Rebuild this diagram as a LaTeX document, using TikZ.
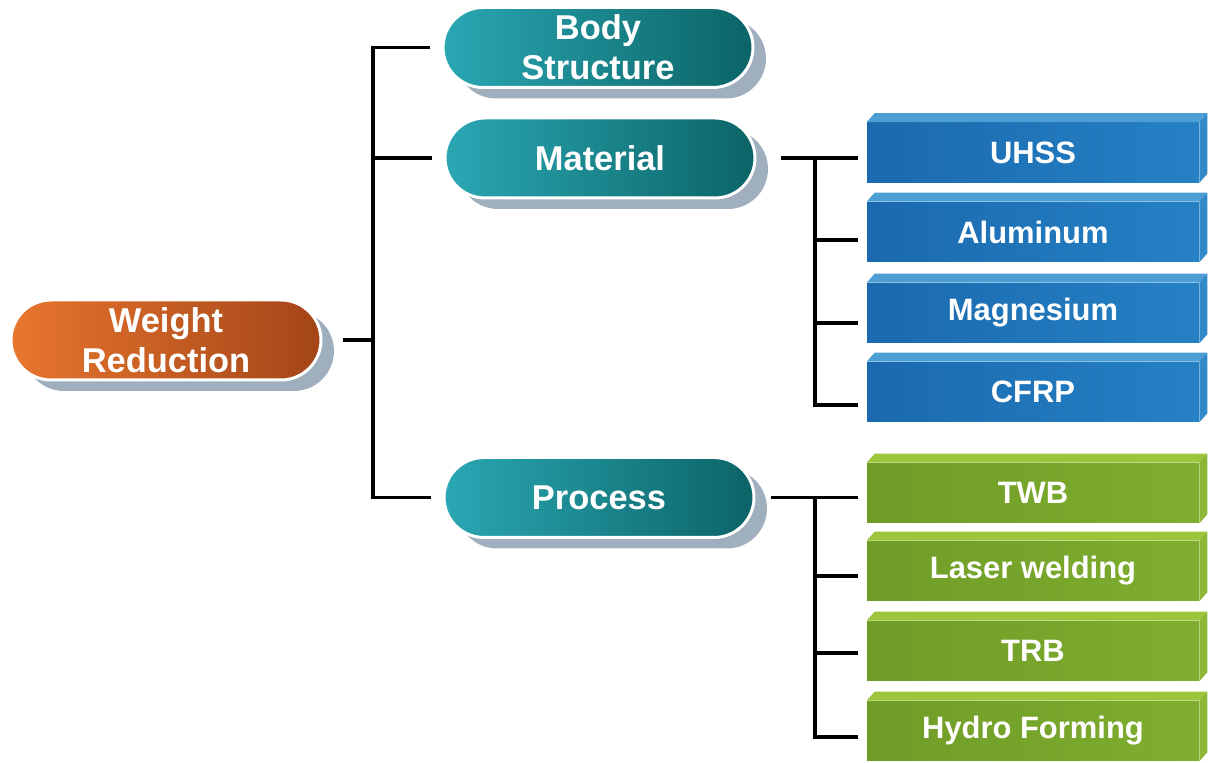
\documentclass[tikz,border=0pt]{standalone}
\usepackage{fontspec}
\setmainfont{Liberation Sans}
\usetikzlibrary{shapes.misc,shadows}
\definecolor{orL}{HTML}{E8762E}
\definecolor{orR}{HTML}{A34518}
\definecolor{tlL}{HTML}{2AA7B4}
\definecolor{tlR}{HTML}{0B6466}
\definecolor{shd}{HTML}{A0AFBD}
\definecolor{bluL}{HTML}{1B69AE}
\definecolor{bluR}{HTML}{2581C4}
\definecolor{bluT}{HTML}{4E9ED6}
\definecolor{bluS}{HTML}{3189C8}
\definecolor{grnL}{HTML}{6F9C27}
\definecolor{grnR}{HTML}{7FAE2F}
\definecolor{grnT}{HTML}{9CC53C}
\definecolor{grnS}{HTML}{8CB736}
\tikzset{
  pill/.style={rounded rectangle, draw=white, line width=1.7pt, inner sep=0pt,
    minimum height=1.6cm, minimum width=6.2cm, text=white,
    font=\bfseries\fontsize{19.6}{22.7}\selectfont, align=center,
    drop shadow={shadow xshift=0.26cm, shadow yshift=-0.22cm, fill=shd, opacity=1}},
  orpill/.style={pill, left color=orL, right color=orR},
  tlpill/.style={pill, left color=tlL, right color=tlR},
  box/.style={rectangle, inner sep=0pt, minimum width=6.64cm, minimum height=1.2cm,
    text=white, font=\bfseries\fontsize{17.6}{20}\selectfont},
  bbox/.style={box, left color=bluL, right color=bluR},
  gbox/.style={box, left color=grnL, right color=grnR},
  conn/.style={draw=black, line width=2.2pt}
}
\begin{document}
\begin{tikzpicture}[x=0.02cm, y=-0.02cm]
\useasboundingbox (0,0) rectangle (1208,763);
% pills
\node[orpill] (wr) at (166,340) {Weight\\Reduction};
\node[tlpill] (body) at (598,47.5) {Body\\Structure};
\node[tlpill] (mat) at (600,158) {Material};
\node[tlpill] (proc) at (599,497.5) {Process};
% boxes
\node[bbox] (uhss) at (1033,152.5) {UHSS};
\node[bbox] (alu) at (1033,232) {Aluminum};
\node[bbox] (mag) at (1033,313) {Magnesium};
\node[bbox] (cfrp) at (1033,392) {CFRP};
\node[gbox] (twb) at (1033,493) {TWB};
\node[gbox] (laser) at (1033,571) {Laser welding};
\node[gbox] (trb) at (1033,651) {TRB};
\node[gbox] (hydro) at (1033,731) {Hydro Forming};
\foreach \n in {uhss,alu,mag,cfrp} {
  \fill[bluT] (\n.north west) -- ([xshift=0.16cm,yshift=0.18cm]\n.north west)
    -- ([xshift=0.16cm,yshift=0.18cm]\n.north east) -- (\n.north east) -- cycle;
  \fill[bluS] (\n.north east) -- ([xshift=0.16cm,yshift=0.18cm]\n.north east)
    -- ([xshift=0.16cm,yshift=0.18cm]\n.south east) -- (\n.south east) -- cycle;
}
\foreach \n in {twb,laser,trb,hydro} {
  \fill[grnT] (\n.north west) -- ([xshift=0.16cm,yshift=0.18cm]\n.north west)
    -- ([xshift=0.16cm,yshift=0.18cm]\n.north east) -- (\n.north east) -- cycle;
  \fill[grnS] (\n.north east) -- ([xshift=0.16cm,yshift=0.18cm]\n.north east)
    -- ([xshift=0.16cm,yshift=0.18cm]\n.south east) -- (\n.south east) -- cycle;
}
% connector coordinates
\coordinate (lbus) at (373,0);
\coordinate (rbus) at (815,0);
\coordinate (uhssIn) at ([xshift=-0.18cm]uhss.west);
\coordinate (aluIn) at ([xshift=-0.18cm,yshift=-0.16cm]alu.west);
\coordinate (magIn) at ([xshift=-0.18cm,yshift=-0.2cm]mag.west);
\coordinate (cfrpIn) at ([xshift=-0.18cm,yshift=-0.26cm]cfrp.west);
\coordinate (twbIn) at ([xshift=-0.18cm]twb.west);
\coordinate (laserIn) at ([xshift=-0.18cm,yshift=-0.1cm]laser.west);
\coordinate (trbIn) at ([xshift=-0.18cm,yshift=-0.04cm]trb.west);
\coordinate (hydroIn) at ([xshift=-0.18cm,yshift=-0.12cm]hydro.west);
% left bus
\draw[conn] ([xshift=-0.24cm]body.west) -- (body.west -| lbus) -- (proc.west -| lbus) -- ([xshift=-0.24cm]proc.west);
\draw[conn] ([xshift=-0.24cm]mat.west) -- (mat.west -| lbus);
\draw[conn] ([xshift=0.42cm]wr.east) -- (wr.east -| lbus);
% material bus
\draw[conn] ([xshift=0.5cm]mat.east) -- (uhssIn |- mat.east);
\draw[conn] (mat.east -| rbus) -- (rbus |- cfrpIn) -- (cfrpIn);
\draw[conn] (rbus |- aluIn) -- (aluIn);
\draw[conn] (rbus |- magIn) -- (magIn);
% process bus
\draw[conn] ([xshift=0.32cm]proc.east) -- (twbIn |- proc.east);
\draw[conn] (proc.east -| rbus) -- (rbus |- hydroIn) -- (hydroIn);
\draw[conn] (rbus |- laserIn) -- (laserIn);
\draw[conn] (rbus |- trbIn) -- (trbIn);
\end{tikzpicture}
\end{document}
